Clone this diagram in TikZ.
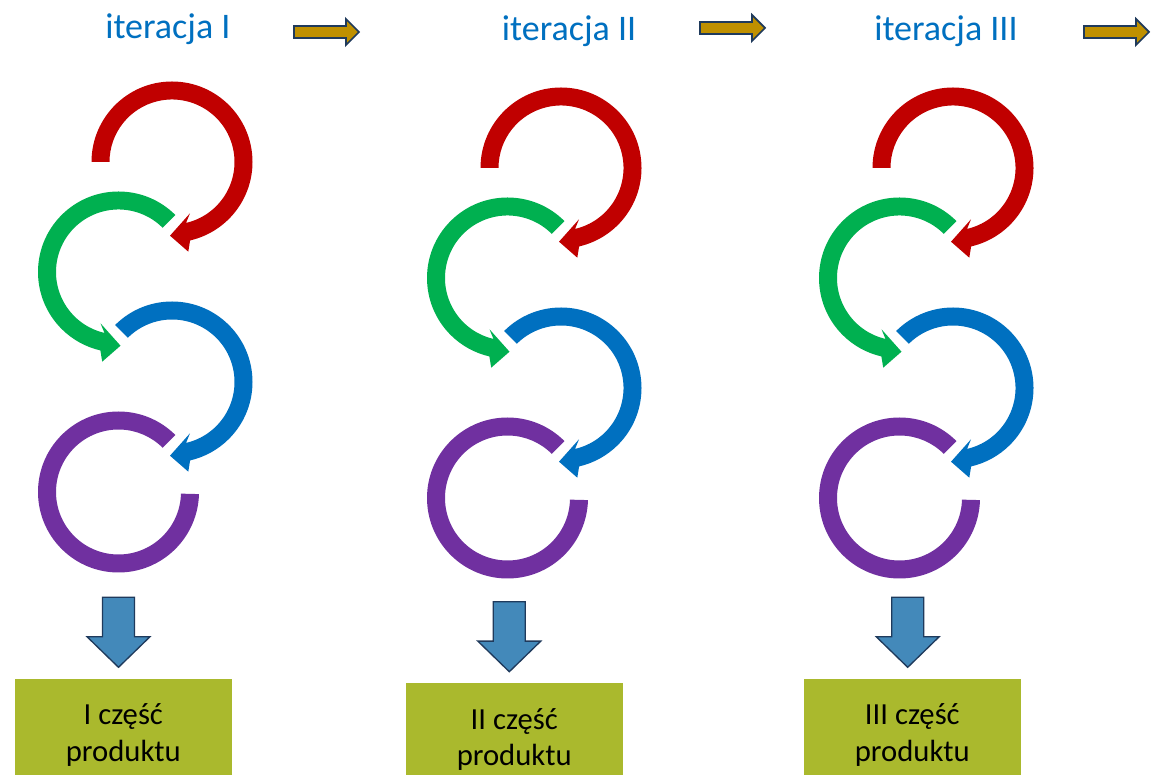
\documentclass[tikz,border=0pt]{standalone}
\usepackage{fontspec}
\setmainfont{Carlito}
\definecolor{cred}{HTML}{C00000}
\definecolor{cgreen}{HTML}{00B050}
\definecolor{cblue}{HTML}{0070C0}
\definecolor{cpurple}{HTML}{7030A0}
\definecolor{ctitle}{HTML}{0070C0}
\definecolor{cgold}{HTML}{BF9000}
\definecolor{cnavy}{HTML}{1F3A5C}
\definecolor{csteel}{HTML}{4389BA}
\definecolor{colive}{HTML}{AAB92D}
\tikzset{
  titletext/.style={anchor=base west, inner sep=0pt, text=ctitle, font=\fontsize{27pt}{32pt}\selectfont},
  prodbox/.style={fill=colive, minimum width=162.5pt, minimum height=84pt, inner sep=0pt, align=center, text=black, font=\fontsize{23pt}{27.4pt}\selectfont},
  toparrow/.style={fill=cgold, draw=cnavy, line width=1.3pt, line join=miter},
  downarrow/.style={fill=csteel, draw=cnavy, line width=1pt, line join=miter},
  rightarr/.pic={\draw[toparrow] (0,6) -- (52,6) -- (52,13) -- (65,0) -- (52,-13) -- (52,-6) -- (0,-6) -- cycle;},
  downarr/.pic={\draw[downarrow] (-16,0) -- (16,0) -- (16,-39.4) -- (31.5,-39.4) -- (0,-70) -- (-31.5,-39.4) -- (-16,-39.4) -- cycle;},
  itercycle/.pic={
    \fill[cred] (180:80.5) arc[start angle=180, end angle=-77, radius=80.5]
      -- (16.3,-89.7) -- (-2,-73.7) -- (18,-51.3) -- (-77:62.5)
      arc[start angle=-77, end angle=180, radius=62.5] -- cycle;
    \begin{scope}[shift={(-53.5,-110)}]
      \fill[cgreen] (45:80.5) arc[start angle=45, end angle=257, radius=80.5]
        -- (-16.3,-89.7) -- (2,-73.7) -- (-18,-51.3) -- (257:62.5)
        arc[start angle=257, end angle=45, radius=62.5] -- cycle;
    \end{scope}
    \begin{scope}[shift={(0,-220)}]
      \fill[cblue] (135:80.5) arc[start angle=135, end angle=-77, radius=80.5]
        -- (16.3,-89.7) -- (-2,-73.7) -- (18,-51.3) -- (-77:62.5)
        arc[start angle=-77, end angle=135, radius=62.5] -- cycle;
    \end{scope}
    \begin{scope}[shift={(-53.5,-330)}]
      \fill[cpurple] (45:80.5) arc[start angle=45, end angle=358.5, radius=80.5]
        -- (358.5:62.5) arc[start angle=358.5, end angle=45, radius=62.5] -- cycle;
    \end{scope}
  }
}
\begin{document}
\begin{tikzpicture}[x=0.75pt,y=0.75pt]
\useasboundingbox (0,0) rectangle (1162,774);
\clip (0,0) rectangle (1162,774);
\fill[white] (0,0) rectangle (1162,774);

% titles
\node[titletext] (t1) at (105,735.5) {iteracja I};
\node[titletext] (t2) at (501.7,733) {iteracja II};
\node[titletext] (t3) at (874,733) {iteracja III};

% top arrows
\pic at (294,742) {rightarr};
\pic at (700,746) {rightarr};
\pic at (1084,742) {rightarr};

% cycles
\pic at (172,612) {itercycle};
\pic at (561,606) {itercycle};
\pic at (953,606) {itercycle};

% down arrows
\pic at (118.5,176.7) {downarr};
\pic at (509.3,172.3) {downarr};
\pic at (907.7,176.7) {downarr};

% product boxes
\node[prodbox] (b1) at (123.3,39) {I część\\produktu};
\node[prodbox] (b2) at (514.2,34.7) {II część\\produktu};
\node[prodbox] (b3) at (912.3,39) {III część\\produktu};
\end{tikzpicture}
\end{document}
